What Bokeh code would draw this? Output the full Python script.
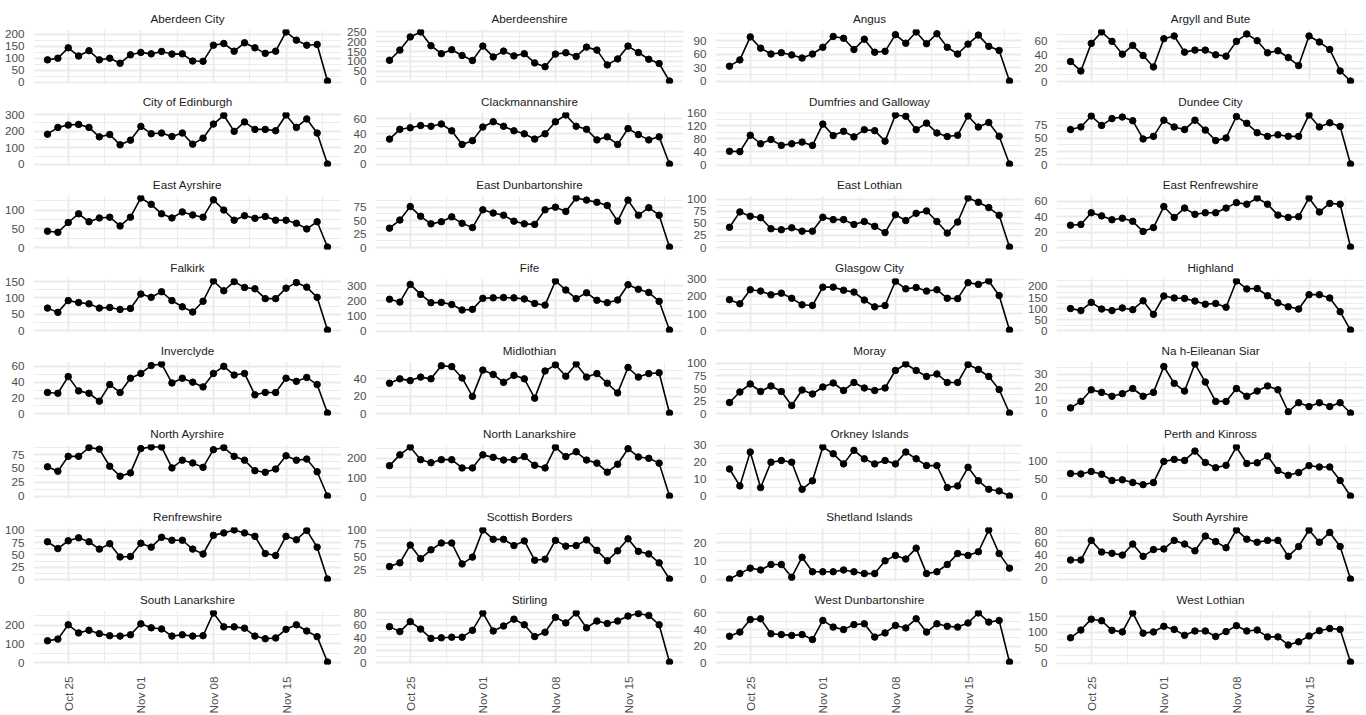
import math
import pandas as pd
from bokeh.plotting import figure
from bokeh.layouts import gridplot
from bokeh.models import Range1d, FixedTicker, DatetimeTickFormatter, ColumnDataSource
from bokeh.embed import file_html
from bokeh.resources import INLINE

# ---------------- data ----------------
dates = list(pd.date_range("2020-10-23", "2020-11-19", freq="D"))
x_tick_dates = ["2020-10-25", "2020-11-01", "2020-11-08", "2020-11-15"]

areas = ["Aberdeen City", "Aberdeenshire", "Angus", "Argyll and Bute",
         "City of Edinburgh", "Clackmannanshire", "Dumfries and Galloway", "Dundee City",
         "East Ayrshire", "East Dunbartonshire", "East Lothian", "East Renfrewshire",
         "Falkirk", "Fife", "Glasgow City", "Highland",
         "Inverclyde", "Midlothian", "Moray", "Na h-Eileanan Siar",
         "North Ayrshire", "North Lanarkshire", "Orkney Islands", "Perth and Kinross",
         "Renfrewshire", "Scottish Borders", "Shetland Islands", "South Ayrshire",
         "South Lanarkshire", "Stirling", "West Dunbartonshire", "West Lothian"]

aberdeen_city = [94, 101, 144, 110, 132, 94, 101, 80, 115, 125, 119, 129, 118, 119, 89, 88, 155, 162, 130, 165, 144, 121, 130, 210, 176, 155, 158, 6]
aberdeenshire = [106, 157, 223, 248, 179, 139, 159, 130, 105, 177, 123, 152, 128, 139, 93, 74, 137, 144, 125, 172, 157, 83, 113, 177, 145, 111, 90, 2]
angus = [33, 47, 98, 73, 60, 63, 58, 51, 60, 75, 99, 95, 70, 93, 64, 66, 103, 84, 109, 83, 105, 75, 60, 82, 102, 77, 68, 0]
argyll_and_bute = [30, 16, 57, 74, 60, 41, 54, 39, 22, 64, 68, 44, 47, 47, 40, 38, 60, 71, 61, 43, 46, 36, 24, 68, 59, 48, 16, 1]
city_of_edinburgh = [182, 223, 237, 241, 223, 166, 180, 118, 146, 229, 185, 189, 168, 189, 122, 158, 243, 296, 199, 256, 211, 211, 203, 298, 223, 274, 189, 2]
clackmannanshire = [33, 46, 48, 51, 50, 53, 44, 26, 31, 49, 56, 50, 44, 40, 33, 40, 56, 65, 50, 46, 32, 36, 26, 47, 39, 32, 36, 0]
dumfries_and_galloway = [42, 41, 91, 65, 78, 60, 65, 70, 60, 125, 90, 103, 86, 108, 105, 73, 153, 149, 108, 128, 98, 87, 91, 150, 116, 130, 88, 3]
dundee_city = [67, 72, 93, 75, 88, 91, 84, 49, 54, 85, 72, 67, 85, 66, 46, 51, 92, 79, 61, 54, 57, 54, 54, 95, 72, 80, 73, 1]
east_ayrshire = [44, 41, 67, 90, 69, 79, 81, 58, 81, 132, 115, 90, 79, 95, 87, 81, 127, 100, 73, 85, 78, 83, 73, 73, 65, 50, 69, 2]
east_dunbartonshire = [36, 51, 76, 58, 44, 48, 57, 45, 37, 70, 64, 60, 49, 44, 43, 70, 75, 67, 92, 88, 84, 78, 49, 88, 60, 74, 60, 1]
east_lothian = [42, 74, 65, 62, 39, 37, 41, 34, 34, 63, 58, 58, 48, 54, 44, 31, 68, 56, 71, 76, 54, 30, 53, 103, 94, 83, 67, 1]
east_renfrewshire = [29, 30, 45, 41, 36, 38, 34, 21, 26, 53, 39, 51, 43, 45, 45, 51, 58, 56, 64, 56, 42, 39, 40, 64, 46, 57, 56, 1]
falkirk = [69, 56, 92, 86, 82, 69, 71, 65, 68, 112, 102, 119, 92, 73, 57, 90, 152, 122, 150, 132, 128, 98, 98, 130, 147, 133, 102, 2]
fife = [211, 192, 309, 243, 188, 190, 176, 140, 144, 217, 220, 222, 220, 213, 183, 172, 332, 272, 215, 254, 204, 188, 206, 307, 277, 256, 197, 7]
glasgow_city = [181, 157, 239, 231, 209, 219, 189, 151, 147, 254, 254, 236, 225, 179, 139, 147, 288, 244, 252, 231, 239, 189, 187, 280, 270, 290, 205, 4]
highland = [100, 91, 128, 98, 91, 103, 95, 135, 74, 157, 148, 146, 134, 120, 123, 106, 225, 189, 191, 158, 126, 108, 98, 163, 163, 148, 86, 3]
inverclyde = [27, 26, 47, 29, 26, 16, 37, 27, 45, 51, 61, 63, 39, 45, 40, 34, 51, 60, 49, 51, 24, 27, 27, 45, 41, 46, 37, 1]
midlothian = [35, 40, 38, 42, 40, 55, 54, 41, 20, 50, 45, 36, 44, 40, 18, 49, 56, 43, 57, 42, 46, 35, 24, 53, 42, 46, 47, 1]
moray = [22, 43, 59, 44, 55, 44, 16, 47, 39, 53, 61, 46, 62, 51, 46, 51, 86, 99, 86, 74, 79, 62, 62, 98, 88, 74, 48, 1]
na_h_eileanan_siar = [4, 9, 18, 16, 13, 15, 19, 13, 16, 36, 23, 17, 38, 24, 9, 9, 19, 13, 17, 21, 18, 1, 8, 5, 8, 5, 8, 0]
north_ayrshire = [53, 45, 72, 72, 88, 85, 54, 36, 42, 86, 89, 89, 51, 65, 60, 52, 84, 88, 72, 65, 46, 43, 49, 73, 65, 67, 44, 0]
north_lanarkshire = [162, 218, 259, 193, 177, 193, 193, 150, 150, 218, 205, 191, 193, 209, 164, 150, 258, 209, 234, 191, 175, 128, 169, 250, 207, 200, 175, 4]
orkney_islands = [16, 6, 26, 5, 20, 21, 20, 4, 9, 29, 25, 19, 27, 22, 19, 21, 19, 26, 22, 18, 18, 5, 6, 17, 9, 4, 3, 0]
perth_and_kinross = [65, 64, 71, 63, 45, 47, 39, 33, 39, 100, 106, 103, 130, 97, 82, 89, 142, 94, 96, 116, 74, 60, 68, 88, 84, 84, 45, 0]
renfrewshire = [77, 63, 79, 85, 77, 62, 73, 46, 47, 74, 66, 86, 80, 80, 62, 52, 90, 95, 101, 95, 88, 53, 49, 88, 81, 100, 66, 1]
scottish_borders = [31, 38, 72, 46, 63, 76, 76, 36, 49, 101, 83, 83, 71, 80, 43, 45, 81, 70, 71, 82, 62, 42, 61, 84, 60, 55, 38, 7]
shetland_islands = [0, 3, 6, 5, 8, 8, 1, 12, 4, 4, 4, 5, 4, 3, 3, 10, 13, 11, 17, 3, 4, 8, 14, 13, 15, 27, 14, 6]
south_ayrshire = [32, 32, 64, 45, 43, 40, 58, 38, 49, 50, 64, 58, 47, 71, 62, 52, 81, 66, 61, 64, 64, 38, 54, 81, 61, 77, 54, 1]
south_lanarkshire = [117, 126, 202, 159, 173, 155, 144, 142, 149, 207, 186, 180, 142, 149, 142, 144, 265, 191, 191, 184, 142, 128, 132, 178, 202, 169, 139, 4]
stirling = [58, 50, 66, 54, 39, 40, 41, 41, 52, 80, 51, 59, 70, 61, 42, 49, 73, 64, 80, 56, 67, 63, 67, 75, 79, 76, 61, 1]
west_dunbartonshire = [32, 37, 52, 53, 35, 34, 33, 34, 28, 51, 43, 40, 46, 47, 31, 36, 45, 42, 53, 37, 47, 44, 43, 48, 60, 49, 51, 1]
west_lothian = [82, 107, 142, 137, 106, 101, 162, 97, 101, 119, 109, 90, 104, 104, 86, 102, 121, 104, 107, 85, 85, 59, 69, 88, 105, 112, 109, 4]

series = [aberdeen_city, aberdeenshire, angus, argyll_and_bute,
          city_of_edinburgh, clackmannanshire, dumfries_and_galloway, dundee_city,
          east_ayrshire, east_dunbartonshire, east_lothian, east_renfrewshire,
          falkirk, fife, glasgow_city, highland,
          inverclyde, midlothian, moray, na_h_eileanan_siar,
          north_ayrshire, north_lanarkshire, orkney_islands, perth_and_kinross,
          renfrewshire, scottish_borders, shetland_islands, south_ayrshire,
          south_lanarkshire, stirling, west_dunbartonshire, west_lothian]

y_ticks = [[0, 50, 100, 150, 200], [0, 50, 100, 150, 200, 250], [0, 30, 60, 90], [0, 20, 40, 60],
           [0, 100, 200, 300], [0, 20, 40, 60], [0, 40, 80, 120, 160], [0, 25, 50, 75, 100],
           [0, 50, 100], [0, 25, 50, 75], [0, 25, 50, 75, 100], [0, 20, 40, 60],
           [0, 50, 100, 150], [0, 100, 200, 300], [0, 100, 200, 300], [0, 50, 100, 150, 200],
           [0, 20, 40, 60], [0, 20, 40], [0, 25, 50, 75, 100], [0, 10, 20, 30],
           [0, 25, 50, 75], [0, 100, 200], [0, 10, 20, 30], [0, 50, 100],
           [0, 25, 50, 75, 100], [25, 50, 75, 100], [0, 10, 20], [0, 20, 40, 60, 80],
           [0, 100, 200], [0, 20, 40, 60, 80], [0, 20, 40, 60], [0, 50, 100, 150]]

# ---------------- style ----------------
FONT = "Liberation Sans"
FS = "11.7px"
GRID = "#EBEBEB"
NCOL = 4
FRAME_W = 308
FRAME_H = 54
LEFT_BORDERS = [33, 34, 30, 33]


def to_ms(d):
    return pd.Timestamp(d).value / 1e6


x_major = [to_ms(d) for d in x_tick_dates]
step = x_major[1] - x_major[0]
x_minor = [x_major[0] - step / 2] + [(a + b) / 2 for a, b in zip(x_major[:-1], x_major[1:])] + [x_major[-1] + step / 2]
x0 = to_ms(dates[0])
x1 = to_ms(dates[-1])
xpad = 0.05 * (x1 - x0)


def minor_of(ticks, lo, hi):
    st = ticks[1] - ticks[0]
    cand = [ticks[0] - st / 2] + [(a + b) / 2 for a, b in zip(ticks[:-1], ticks[1:])] + [ticks[-1] + st / 2]
    return [c for c in cand if lo <= c <= hi]


nrows = math.ceil(len(areas) / NCOL)
rows = []
for r in range(nrows):
    row = []
    for c in range(NCOL):
        i = r * NCOL + c
        vals = series[i]
        last = (r == nrows - 1)
        first = (r == 0)
        lo, hi = min(vals), max(vals)
        span = hi - lo
        ylo, yhi = lo - 0.05 * span, hi + 0.05 * span
        p = figure(
            frame_width=FRAME_W, frame_height=FRAME_H,
            x_axis_type="datetime",
            x_axis_location="below" if last else None,
            x_range=Range1d(x0 - xpad, x1 + xpad),
            y_range=Range1d(ylo, yhi),
            min_border_left=LEFT_BORDERS[c], min_border_right=0,
            min_border_top=29 if first else 25,
            min_border_bottom=48 if last else 4,
            output_backend="svg", toolbar_location=None,
            title=areas[i],
        )
        p.outline_line_color = None
        p.background_fill_color = "white"
        p.border_fill_color = "white"
        p.title.align = "center"
        p.title.text_font = FONT
        p.title.text_font_size = FS
        p.title.text_font_style = "normal"
        p.title.text_color = "#1A1A1A"
        p.title.standoff = 10

        # y axis
        yt = y_ticks[i]
        p.yaxis.ticker = FixedTicker(ticks=yt, minor_ticks=minor_of(yt, ylo, yhi))
        p.yaxis.axis_line_color = None
        p.yaxis.major_tick_line_color = None
        p.yaxis.minor_tick_line_color = None
        p.yaxis.major_label_text_font = FONT
        p.yaxis.major_label_text_font_size = FS
        p.yaxis.major_label_text_color = "#4D4D4D"
        p.yaxis.major_label_standoff = 3

        # x grid / axis
        xt = FixedTicker(ticks=x_major, minor_ticks=x_minor)
        p.xgrid.ticker = xt
        if last:
            p.xaxis.ticker = xt
            p.xaxis.formatter = DatetimeTickFormatter(days="%b %d", months="%b %d", hours="%b %d")
            p.xaxis.axis_line_color = None
            p.xaxis.major_tick_line_color = None
            p.xaxis.minor_tick_line_color = None
            p.xaxis.major_label_text_font = FONT
            p.xaxis.major_label_text_font_size = FS
            p.xaxis.major_label_text_color = "#4D4D4D"
            p.xaxis.major_label_orientation = math.pi / 2
            p.xaxis.major_label_standoff = 6

        for g in (p.xgrid, p.ygrid):
            g.grid_line_color = GRID
            g.grid_line_width = 1.9
            g.minor_grid_line_color = GRID
            g.minor_grid_line_width = 0.95

        src = ColumnDataSource(dict(date=dates, count=vals))
        p.line(x="date", y="count", source=src, line_color="black", line_width=1.6)
        p.scatter(x="date", y="count", source=src, size=6.5, marker="circle",
                  fill_color="black", line_color="black")
        row.append(p)
    rows.append(row)

grid = gridplot(rows, toolbar_location=None)

open("out.html", "w").write(file_html(grid, INLINE))
